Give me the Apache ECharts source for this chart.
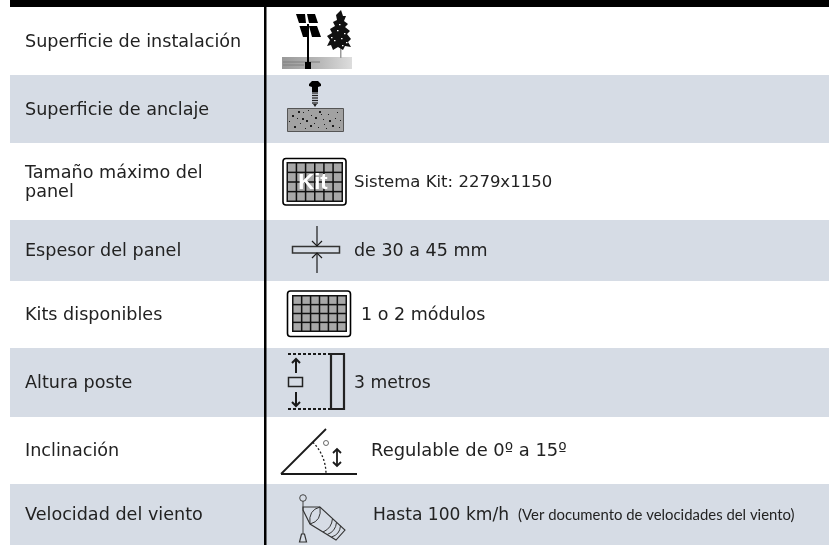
<!DOCTYPE html>
<html>
<head>
<meta charset="utf-8">
<title>Ficha técnica</title>
<script src="https://cdn.jsdelivr.net/npm/echarts@6/dist/echarts.min.js"></script>
<style>
html, body { margin: 0; padding: 0; background: #fff; }
#main { width: 829px; height: 545px; }
</style>
</head>
<body>
<div id="main"></div>
<script>
// table content
const rowLabels = [
    'Superficie de instalación',
    'Superficie de anclaje',
    'Tamaño máximo del\npanel',
    'Espesor del panel',
    'Kits disponibles',
    'Altura poste',
    'Inclinación',
    'Velocidad del viento'
];
const rowValues = [
    '',
    '',
    'Sistema Kit: 2279x1150',
    'de 30 a 45 mm',
    '1 o 2 módulos',
    '3 metros',
    'Regulable de 0º a 15º',
    'Hasta 100 km/h'
];
const rowNotes = ['', '', '', '', '', '', '', '(Ver documento de velocidades del viento)'];

// layout, in page pixels
const rowEdges = [7, 75, 143, 220, 281, 348, 417, 484, 545];
const valueX = [0, 0, 354, 354, 361, 354, 371, 373];
const valueSize = [0, 0, 16.5, 17.5, 17.5, 17.2, 17.9, 17.1];
const labelFont = '"DejaVu Sans"';
const labelSize = 17.6;
const ink = '#1a1a1a';

const chart = echarts.init(document.getElementById('main'), null, { renderer: 'canvas' });

function line(x1, y1, x2, y2, w, color, dash) {
    return {
        type: 'line',
        shape: { x1, y1, x2, y2 },
        style: { stroke: color || ink, lineWidth: w || 1, lineDash: dash || null }
    };
}
function poly(points, fill, stroke, w) {
    return {
        type: 'polygon',
        shape: { points },
        style: { fill: fill || 'none', stroke: stroke || null, lineWidth: w || 1 }
    };
}
function box(x, y, width, height, fill, stroke, w, r) {
    return {
        type: 'rect',
        shape: { x, y, width, height, r: r || 0 },
        style: { fill: fill || 'none', stroke: stroke || null, lineWidth: w || 1 }
    };
}
function arrowUp(x, y, size, w) {
    return {
        type: 'polyline',
        shape: { points: [[x - size, y + size], [x, y], [x + size, y + size]] },
        style: { fill: 'none', stroke: ink, lineWidth: w || 1 }
    };
}
function arrowDown(x, y, size, w) {
    return {
        type: 'polyline',
        shape: { points: [[x - size, y - size], [x, y], [x + size, y - size]] },
        style: { fill: 'none', stroke: ink, lineWidth: w || 1 }
    };
}

function solarIcon() {
    const treeCrown = [
        [341, 10], [343, 16], [346, 16], [344, 21], [348, 24], [345, 27], [350, 31], [347, 34],
        [351, 39], [348, 42], [351, 47], [345, 46], [343, 50], [338, 47], [333, 50], [331, 45],
        [327, 46], [330, 40], [327, 36], [332, 33], [330, 29], [335, 26], [333, 22], [337, 20],
        [336, 15]
    ];
    const treeGaps = [[337, 30], [344, 33], [334, 40], [341, 38], [346, 42], [339, 24], [342, 45], [331, 37]];
    const out = [
        {
            type: 'rect',
            shape: { x: 282, y: 57, width: 70, height: 12 },
            style: {
                fill: new echarts.graphic.LinearGradient(0, 0, 1, 0, [
                    { offset: 0, color: '#999999' },
                    { offset: 0.55, color: '#b9b9b9' },
                    { offset: 1, color: '#dddddd' }
                ])
            }
        },
        line(283, 62, 320, 62, 1, '#7f7f7f'),
        line(283, 65, 304, 65, 1, '#808080'),
        box(340, 40, 1.5, 18, '#9a9a9a'),
        poly(treeCrown, '#111111')
    ];
    treeGaps.forEach(function (g) {
        out.push(box(g[0], g[1], 1.5, 1.2, '#ffffff'));
    });
    return out.concat([
        poly([[296, 14], [305, 14], [306, 23], [299, 23]], '#000000'),
        poly([[307, 14], [315, 14], [318, 23], [309, 23]], '#000000'),
        poly([[299.5, 26], [307, 26], [307.5, 37], [303, 37]], '#000000'),
        poly([[309, 26], [317, 26], [321, 37], [312, 37]], '#000000'),
        box(307, 24, 2, 40, '#000000'),
        box(305, 62, 6, 7, '#000000')
    ]);
}

function anchorIcon() {
    const specks = [
        [292, 115], [297, 118], [303, 112], [306, 120], [311, 115], [314, 123], [319, 111], [323, 119],
        [328, 114], [332, 125], [337, 112], [340, 120], [294, 126], [300, 123], [305, 128], [310, 125],
        [318, 127], [324, 124], [329, 120], [335, 118], [289, 121], [315, 117], [321, 114], [339, 127],
        [298, 111], [308, 110], [326, 128], [302, 118]
    ];
    const out = [box(287.5, 108.5, 56, 23, '#a2a2a2', '#555555', 1)];
    specks.forEach(function (s, i) {
        out.push(box(s[0], s[1], i % 3 === 0 ? 2 : 1, i % 3 === 0 ? 2 : 1, '#1c1c1c'));
    });
    // screw
    out.push(poly([[309, 84], [312, 81], [318, 81], [321, 84], [321, 86], [318, 87], [318, 92], [312, 92], [312, 87], [309, 86]], '#000000'));
    for (let y = 93; y < 105; y += 2.5) {
        out.push(line(312, y, 318, y, 1.3, '#222222'));
    }
    out.push(poly([[313, 104], [317, 104], [315, 107]], '#222222'));
    return out;
}

function cellGrid(x, y, width, height) {
    const out = [box(x, y, width, height, '#111111')];
    const cw = (width - 1.5) / 6;
    const ch = (height - 1.5) / 4;
    for (let c = 0; c < 6; c++) {
        for (let r = 0; r < 4; r++) {
            out.push(box(x + 1.5 + c * cw, y + 1.5 + r * ch, cw - 1.5, ch - 1.5, '#a8a8a8'));
        }
    }
    return out;
}

function kitIcon() {
    return [box(283, 158.5, 63, 46.5, '#ffffff', '#000000', 1.6, 3)]
        .concat(cellGrid(286.5, 162, 56.5, 40))
        .concat([{
            type: 'text',
            style: {
                x: 313, y: 183, text: 'Kit', fill: '#ffffff',
                font: 'bold 22px "Liberation Sans"', align: 'center', verticalAlign: 'middle'
            }
        }]);
}

function thicknessIcon() {
    return [
        box(292.5, 246.5, 47, 6.5, 'none', '#333333', 1.5),
        line(317, 226, 317, 246, 1.2, ink),
        line(317, 253, 317, 273, 1.2, ink),
        arrowDown(317, 246, 5, 1.2),
        arrowUp(317, 253, 5, 1.2)
    ];
}

function modulesIcon() {
    return [box(287.5, 291, 63, 45.5, '#ffffff', '#000000', 1.6, 3)]
        .concat(cellGrid(292, 295, 55, 37));
}

function heightIcon() {
    return [
        line(288, 354, 330, 354, 2.2, ink, [3, 2]),
        line(288, 409, 330, 409, 2.2, ink, [3, 2]),
        box(331, 354, 13, 55, 'none', '#222222', 2.2),
        box(288.5, 377.5, 14, 9, 'none', '#222222', 1.5),
        line(296, 359, 296, 373, 2, ink),
        line(296, 392, 296, 406, 2, ink),
        arrowUp(296, 359, 4, 2),
        arrowDown(296, 406, 4, 2)
    ];
}

function angleIcon() {
    return [
        line(281, 474, 357, 474, 1.8, ink),
        line(281, 474, 326, 429, 1.8, ink),
        {
            type: 'arc',
            shape: { cx: 281, cy: 474, r: 45, startAngle: -Math.PI / 4, endAngle: 0 },
            style: { fill: 'none', stroke: ink, lineWidth: 1.3, lineDash: [2, 2] }
        },
        { type: 'circle', shape: { cx: 326, cy: 443, r: 2.5 }, style: { fill: 'none', stroke: '#444444', lineWidth: 0.8 } },
        line(337, 449, 337, 466, 1.8, ink),
        arrowUp(337, 449, 4, 1.8),
        arrowDown(337, 466, 4, 1.8)
    ];
}

function windIcon() {
    const top = [[320, 507], [345, 530]];
    const bottom = [[310, 524], [336, 540]];
    const out = [
        { type: 'circle', shape: { cx: 303, cy: 498, r: 3.3 }, style: { fill: 'none', stroke: '#444444', lineWidth: 1 } },
        line(303, 501, 303, 534, 1, '#444444'),
        poly([[301.5, 534], [304.5, 534], [306.5, 542], [299.5, 542]], 'none', '#333333', 1.2),
        poly([[303, 507], [320, 507], [345, 530], [336, 540], [310, 524], [303, 510]], 'none', '#333333', 1.1),
        {
            type: 'bezierCurve',
            shape: { x1: 320, y1: 507, x2: 310, y2: 524, cpx1: 308, cpy1: 510 },
            style: { fill: 'none', stroke: '#333333', lineWidth: 1 }
        },
        {
            type: 'bezierCurve',
            shape: { x1: 320, y1: 507, x2: 310, y2: 524, cpx1: 322, cpy1: 521 },
            style: { fill: 'none', stroke: '#333333', lineWidth: 1 }
        }
    ];
    [0.5, 0.66, 0.82].forEach(function (t) {
        const x1 = top[0][0] + (top[1][0] - top[0][0]) * t;
        const y1 = top[0][1] + (top[1][1] - top[0][1]) * t;
        const x2 = bottom[0][0] + (bottom[1][0] - bottom[0][0]) * t;
        const y2 = bottom[0][1] + (bottom[1][1] - bottom[0][1]) * t;
        out.push({
            type: 'bezierCurve',
            shape: { x1, y1, x2, y2, cpx1: (x1 + x2) / 2 + 4, cpy1: (y1 + y2) / 2 + 3 },
            style: { fill: 'none', stroke: '#333333', lineWidth: 1 }
        });
    });
    return out;
}

const rowIcons = [solarIcon, anchorIcon, kitIcon, thicknessIcon, modulesIcon, heightIcon, angleIcon, windIcon];

const option = {
    animation: false,
    grid: { left: 0, right: 0, top: 0, bottom: 0 },
    xAxis: { type: 'value', min: 0, max: 829, show: false },
    yAxis: { type: 'value', min: 0, max: 545, inverse: true, show: false },
    series: [{
        type: 'custom',
        silent: true,
        data: rowLabels.map(function (t, i) { return [i]; }),
        renderItem: function (params, api) {
            const i = api.value(0);
            const a = api.coord([10, rowEdges[i]]);
            const b = api.coord([829, rowEdges[i + 1]]);
            const mid = (a[1] + b[1]) / 2;
            let children = [];
            if (i % 2 === 1) {
                children.push({
                    type: 'rect',
                    shape: { x: a[0], y: a[1], width: b[0] - a[0], height: b[1] - a[1] },
                    style: { fill: '#d6dce5' }
                });
            }
            children.push({
                type: 'text',
                style: {
                    x: 25, y: mid + 1, text: rowLabels[i], fill: '#222222',
                    font: labelSize + 'px ' + labelFont, verticalAlign: 'middle', lineHeight: 19
                }
            });
            if (rowValues[i]) {
                children.push({
                    type: 'text',
                    style: {
                        x: valueX[i], y: mid + 1, text: rowValues[i], fill: '#222222',
                        font: valueSize[i] + 'px ' + labelFont, verticalAlign: 'middle'
                    }
                });
            }
            if (rowNotes[i]) {
                children.push({
                    type: 'text',
                    style: {
                        x: 518, y: mid + 1, text: rowNotes[i], fill: '#222222',
                        font: '14.9px Lato', verticalAlign: 'middle'
                    }
                });
            }
            children = children.concat(rowIcons[i]());
            return { type: 'group', children };
        }
    }],
    graphic: {
        elements: [
            { type: 'rect', z: 10, shape: { x: 10, y: 0, width: 819, height: 7 }, style: { fill: '#000000' } },
            { type: 'rect', z: 10, shape: { x: 264, y: 7, width: 2.5, height: 538 }, style: { fill: '#000000' } }
        ]
    }
};
chart.setOption(option);
</script>
</body>
</html>
